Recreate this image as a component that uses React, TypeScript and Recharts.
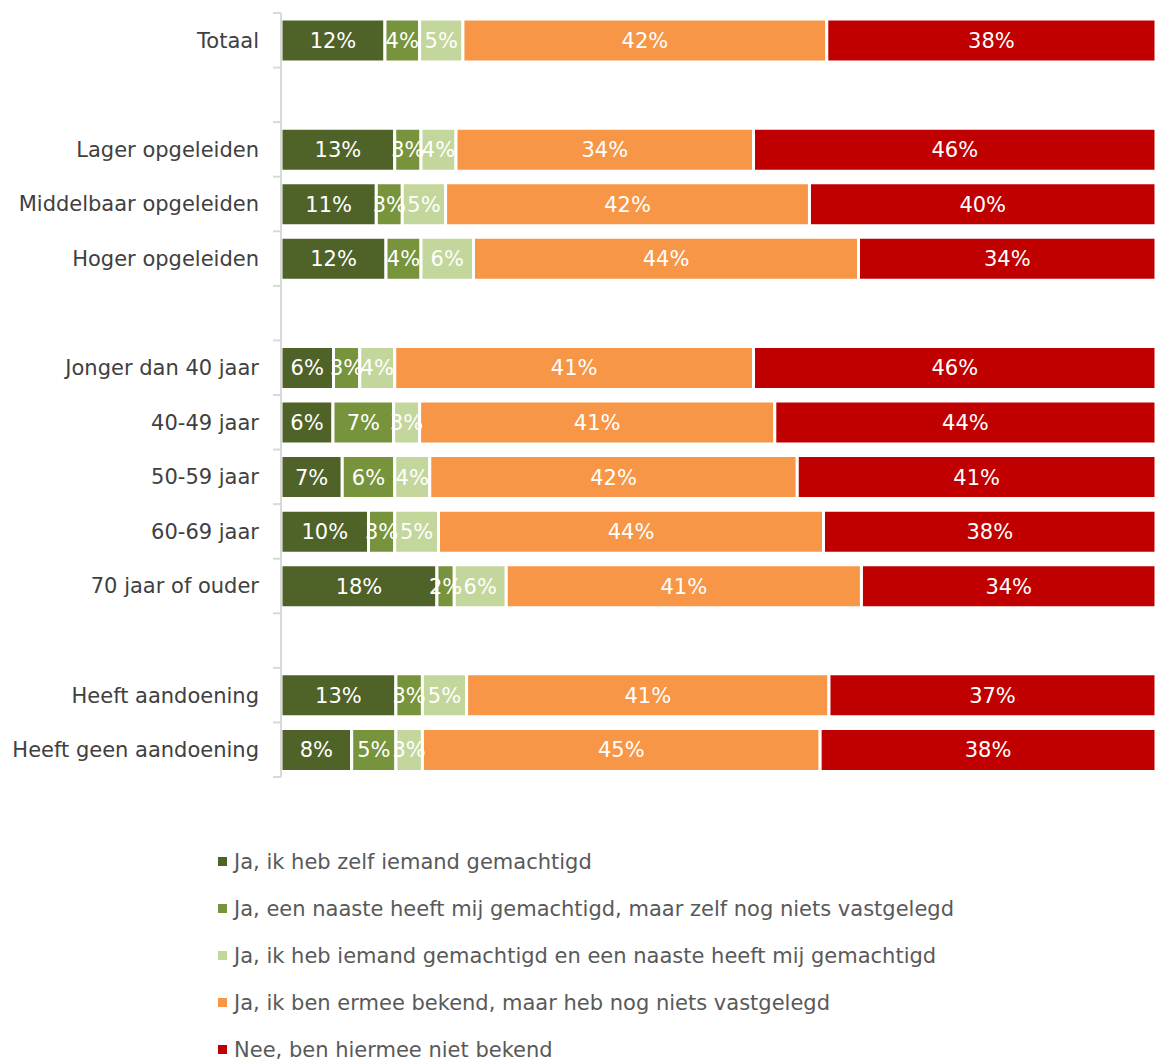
import { BarChart, Bar, XAxis, YAxis, Legend, LabelList } from 'recharts';

// --- Data ---
const categories = [
    'Totaal', ' ',
    'Lager opgeleiden', 'Middelbaar opgeleiden', 'Hoger opgeleiden', '  ',
    'Jonger dan 40 jaar', '40-49 jaar', '50-59 jaar', '60-69 jaar', '70 jaar of ouder', '   ',
    'Heeft aandoening', 'Heeft geen aandoening',
];

const zelfGemachtigd = [12, null, 13, 11, 12, null, 6, 6, 7, 10, 18, null, 13, 8];
const naasteGemachtigd = [4, null, 3, 3, 4, null, 3, 7, 6, 3, 2, null, 3, 5];
const beide = [5, null, 4, 5, 6, null, 4, 3, 4, 5, 6, null, 5, 3];
const bekendNietsVastgelegd = [42, null, 34, 42, 44, null, 41, 41, 42, 44, 41, null, 41, 45];
const nietBekend = [38, null, 46, 40, 34, null, 46, 44, 41, 38, 34, null, 37, 38];

const seriesNames = [
    'Ja, ik heb zelf iemand gemachtigd',
    'Ja, een naaste heeft mij gemachtigd, maar zelf nog niets vastgelegd',
    'Ja, ik heb iemand gemachtigd en een naaste heeft mij gemachtigd',
    'Ja, ik ben ermee bekend, maar heb nog niets vastgelegd',
    'Nee, ben hiermee niet bekend',
];

const COLORS = ['#4F6228', '#77933C', '#C3D69B', '#F79646', '#C00000'];

const rows = categories.map((name, i) => ({
    name,
    s0: zelfGemachtigd[i],
    s1: naasteGemachtigd[i],
    s2: beide[i],
    s3: bekendNietsVastgelegd[i],
    s4: nietBekend[i],
}));

const FONT = '"DejaVu Sans", Verdana, sans-serif';
const AXIS_GREY = '#D9D9D9';
const LABEL_GAP = 22;

const pct = (v: any) => (v === null || v === undefined ? '' : `${v}%`);

// category label plus Excel-style tick marks on the boundaries between rows
function CategoryTick(props: any) {
    const { x, y, payload, index } = props;
    const half = payload?.offset ?? 0;
    const axisX = x + LABEL_GAP;
    const last = index === categories.length - 1;
    return (
        <g>
            <line x1={axisX - 8} x2={axisX} y1={y - half} y2={y - half} stroke={AXIS_GREY} strokeWidth={2} />
            {last && (
                <line x1={axisX - 8} x2={axisX} y1={y + half} y2={y + half} stroke={AXIS_GREY} strokeWidth={2} />
            )}
            <text x={x} y={y} dy="0.355em" textAnchor="end" fill="#404040" fontSize={21} fontFamily={FONT}>
                {payload.value}
            </text>
        </g>
    );
}

function LegendList({ payload }: any) {
    const items = [...(payload || [])].sort(
        (a: any, b: any) => seriesNames.indexOf(a.value) - seriesNames.indexOf(b.value)
    );
    return (
        <div style={{ fontFamily: FONT, fontSize: 21, color: '#595959' }}>
            {items.map((entry: any) => (
                <div key={entry.value} style={{ display: 'flex', alignItems: 'center', height: 47 }}>
                    <span style={{ width: 9, height: 9, background: entry.color, marginRight: 7, display: 'inline-block' }} />
                    <span>{entry.value}</span>
                </div>
            ))}
        </div>
    );
}

export default function App() {
    return (
        <div style={{ position: 'absolute', left: 0, top: 0, background: '#fff' }}>
            <BarChart
                width={1156}
                height={1061}
                data={rows}
                layout="vertical"
                stackOffset="expand"
                margin={{ top: 13, right: 0, bottom: 49, left: 0 }}
            >
                <XAxis type="number" domain={[0, 1]} hide />
                <YAxis
                    type="category"
                    dataKey="name"
                    width={281}
                    axisLine={{ stroke: AXIS_GREY, strokeWidth: 2 }}
                    tickLine={false}
                    tickSize={0}
                    tickMargin={LABEL_GAP}
                    interval={0}
                    tick={<CategoryTick />}
                />
                <Legend
                    layout="vertical"
                    align="center"
                    verticalAlign="bottom"
                    content={<LegendList />}
                    wrapperStyle={{ left: 218, top: 838, width: 'auto' }}
                />
                {['s0', 's1', 's2', 's3', 's4'].map((key, i) => (
                    <Bar
                        key={key}
                        dataKey={key}
                        name={seriesNames[i]}
                        stackId="a"
                        fill={COLORS[i]}
                        stroke="#FFFFFF"
                        strokeWidth={3}
                        barSize={43}
                        isAnimationActive={false}
                    >
                        <LabelList
                            dataKey={key}
                            position="center"
                            formatter={pct}
                            fill="#FFFFFF"
                            style={{ fontSize: 21, fontFamily: FONT }}
                        />
                    </Bar>
                ))}
            </BarChart>
        </div>
    );
}
